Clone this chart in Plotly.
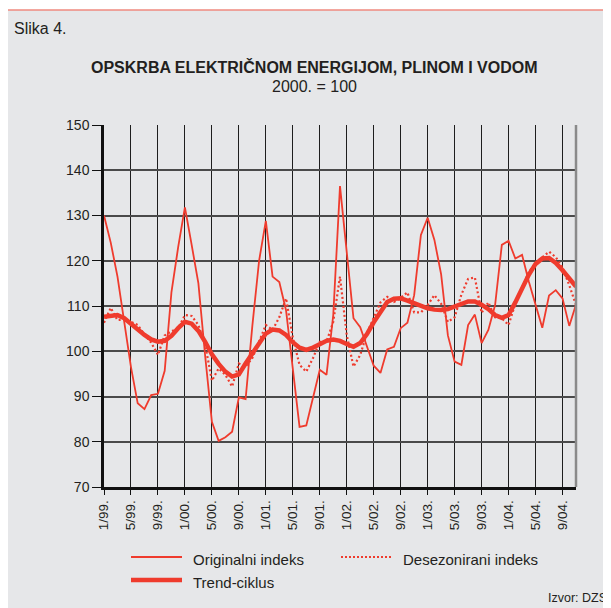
import plotly.graph_objects as go

# monthly index values, 1/99 .. 11/04
months = [f"{m}/{y:02d}" for y in (99, 0, 1, 2, 3, 4) for m in range(1, 13)][:71]

original = [
    130, 124, 116.5, 106, 96.5, 88.5, 87.2, 90.3, 90.6, 95.7, 113, 123,
    131.8, 123.5, 115, 99, 84.4, 80.2, 81, 82.2, 89.8, 89.4, 105.6, 120,
    128.8, 116.5, 115.3, 109, 96, 83.3, 83.6, 89.8, 95.9, 94.8, 108, 136.5,
    122, 107.3, 105.3, 101, 96.8, 95.2, 100.4, 101, 105.1, 106.3, 112.4, 125.7,
    129.5, 124.6, 117, 103.5, 97.7, 97, 105.8, 108.1, 101.8, 104.7, 110.2, 123.5,
    124.4, 120.5, 121.3, 115.4, 110.2, 105.2, 112.3, 113.5, 111.7, 105.6, 110.3,
]
deseasonal = [
    106.3, 109.6, 106.9, 107, 106.5, 105.8, 103.7, 101.9, 99.2, 103.5, 104.4, 105.1,
    108, 107.8, 105.8, 101.5, 93.5, 96.2, 94.8, 92.2, 97.3, 96.6, 98.5, 102,
    105.8, 104.7, 107.5, 111.7, 103, 97, 95.5, 98.5, 102.1, 102.1, 106.5, 116.5,
    103.6, 96.6, 99.2, 104, 107.5, 110.8, 112, 110.9, 111.8, 113, 108.6, 108.6,
    110.2, 112.4, 110.5, 106.5, 107.5, 112.5, 116, 116.3, 108.5, 110.8, 107.5, 107.3,
    105.8, 110.5, 114, 117.5, 119.5, 120.8, 122, 120.8, 118.5, 114.6, 110.2,
]
trend = [
    107.6, 107.9, 108, 107.3, 106, 104.8, 103.6, 102.6, 102.1, 102.3, 103.4, 105.1,
    106.5, 106.1, 104.5, 102.1, 99.3, 97.2, 95.5, 94.4, 94.9, 97.3, 99.6, 102,
    103.9, 104.8, 104.6, 103.6, 102, 100.8, 100.3, 100.8, 101.6, 102.3, 102.6, 102.3,
    101.6, 101, 101.8, 103.8, 106.4, 108.7, 110.9, 111.6, 111.7, 111.2, 110.6, 110,
    109.5, 109.2, 109.1, 109.3, 109.9, 110.4, 111, 111, 110.3, 109.3, 108, 107.4,
    108, 110.8, 113.8, 116.9, 119.3, 120.5, 120.6, 119.5, 117.9, 116.1, 114.3,
]
tick_step = 4
y_ticks = list(range(70, 151, 10))

RED = "#ef3b2d"
PANEL = "#e6e7e9"
FONT = "Liberation Sans, Arial, sans-serif"

OFF = 8  # the html page puts the figure 8px in from the top-left corner
W, H = 611 - OFF, 608 - OFF
L, T = 104 - OFF, 125 - OFF
R, B = W - (576 - OFF), H - (487 - OFF)
pw, ph = W - L - R, H - T - B


def px(x, y):
    """page pixel position -> paper coordinates of the plot area"""
    return (x - OFF - L) / pw, (H - B - (y - OFF)) / ph


x_idx = list(range(len(months)))

fig = go.Figure()
fig.add_trace(go.Scatter(x=x_idx, y=original, mode="lines", line=dict(color=RED, width=1.8)))
fig.add_trace(go.Scatter(x=x_idx, y=deseasonal, mode="lines",
                         line=dict(color=RED, width=2.2, dash="2px,2.5px")))
fig.add_trace(go.Scatter(x=x_idx, y=trend, mode="lines", line=dict(color=RED, width=4.5)))

shapes = []
x0, y0 = px(5, 10)
x1, y1 = px(640, 640)
shapes.append(dict(type="rect", xref="paper", yref="paper", x0=x0, y0=y1, x1=x1, y1=y0,
                   fillcolor=PANEL, line=dict(color="#f08a80", width=1.5), layer="below"))
# right frame edge
shapes.append(dict(type="line", xref="paper", yref="paper", x0=1, x1=1, y0=0, y1=1,
                   line=dict(color="#8a8a8a", width=2.5)))

annotations = [
    dict(text="Slika 4.", x=px(12, 28)[0], y=px(12, 28)[1], xanchor="left", yanchor="middle",
         font=dict(size=16)),
    dict(text="<b>OPSKRBA ELEKTRIČNOM ENERGIJOM, PLINOM I VODOM</b>", x=px(314, 67)[0],
         y=px(314, 67)[1], xanchor="center", yanchor="middle", font=dict(size=16)),
    dict(text="2000. = 100", x=px(314, 86)[0], y=px(314, 86)[1], xanchor="center",
         yanchor="middle", font=dict(size=16)),
    dict(text="Izvor: DZS", x=px(609, 598)[0], y=px(609, 598)[1], xanchor="right",
         yanchor="middle", font=dict(size=12.5)),
]

# legend drawn by hand: 2 columns, trend on second row
legend = [
    ("Originalni indeks", 131, 557, dict(color=RED, width=1.8)),
    ("Desezonirani indeks", 341, 557, dict(color=RED, width=2, dash="2px,2px")),
    ("Trend-ciklus", 131, 580, dict(color=RED, width=4.5)),
]
for name, lx, ly, style in legend:
    a, b = px(lx, ly)
    c, _ = px(lx + 51, ly)
    shapes.append(dict(type="line", xref="paper", yref="paper", x0=a, x1=c, y0=b, y1=b, line=style))
    tx, ty = px(lx + 60, ly + 2)
    annotations.append(dict(text=name, x=tx, y=ty, xanchor="left", yanchor="middle",
                            font=dict(size=15)))

for a in annotations:
    a.update(xref="paper", yref="paper", showarrow=False)

fig.update_layout(
    width=W, height=H,
    margin=dict(l=L, r=R, t=T, b=B),
    paper_bgcolor="white",
    plot_bgcolor=PANEL,
    showlegend=False,
    font=dict(family=FONT, color="#231f20"),
    shapes=shapes,
    annotations=annotations,
)
fig.update_xaxes(
    range=[0, len(months) - 1],
    tickvals=x_idx[::tick_step],
    ticktext=[m + "." for m in months[::tick_step]],
    tickangle=-90,
    tickfont=dict(size=13.5),
    ticks="outside", ticklen=5, tickcolor="#111", tickwidth=1,
    showgrid=True, gridcolor="#1e1e1e", gridwidth=1,
    showline=True, linecolor="#111", linewidth=2.5,
    zeroline=False,
)
fig.update_yaxes(
    range=[70, 150],
    tickvals=y_ticks,
    tickfont=dict(size=14),
    ticks="outside", ticklen=9, tickcolor="#111", tickwidth=1,
    showgrid=True, gridcolor="#4a4a4a", gridwidth=1.5,
    showline=True, linecolor="#111", linewidth=2.5,
    zeroline=False,
)

fig.write_html("out.html")
